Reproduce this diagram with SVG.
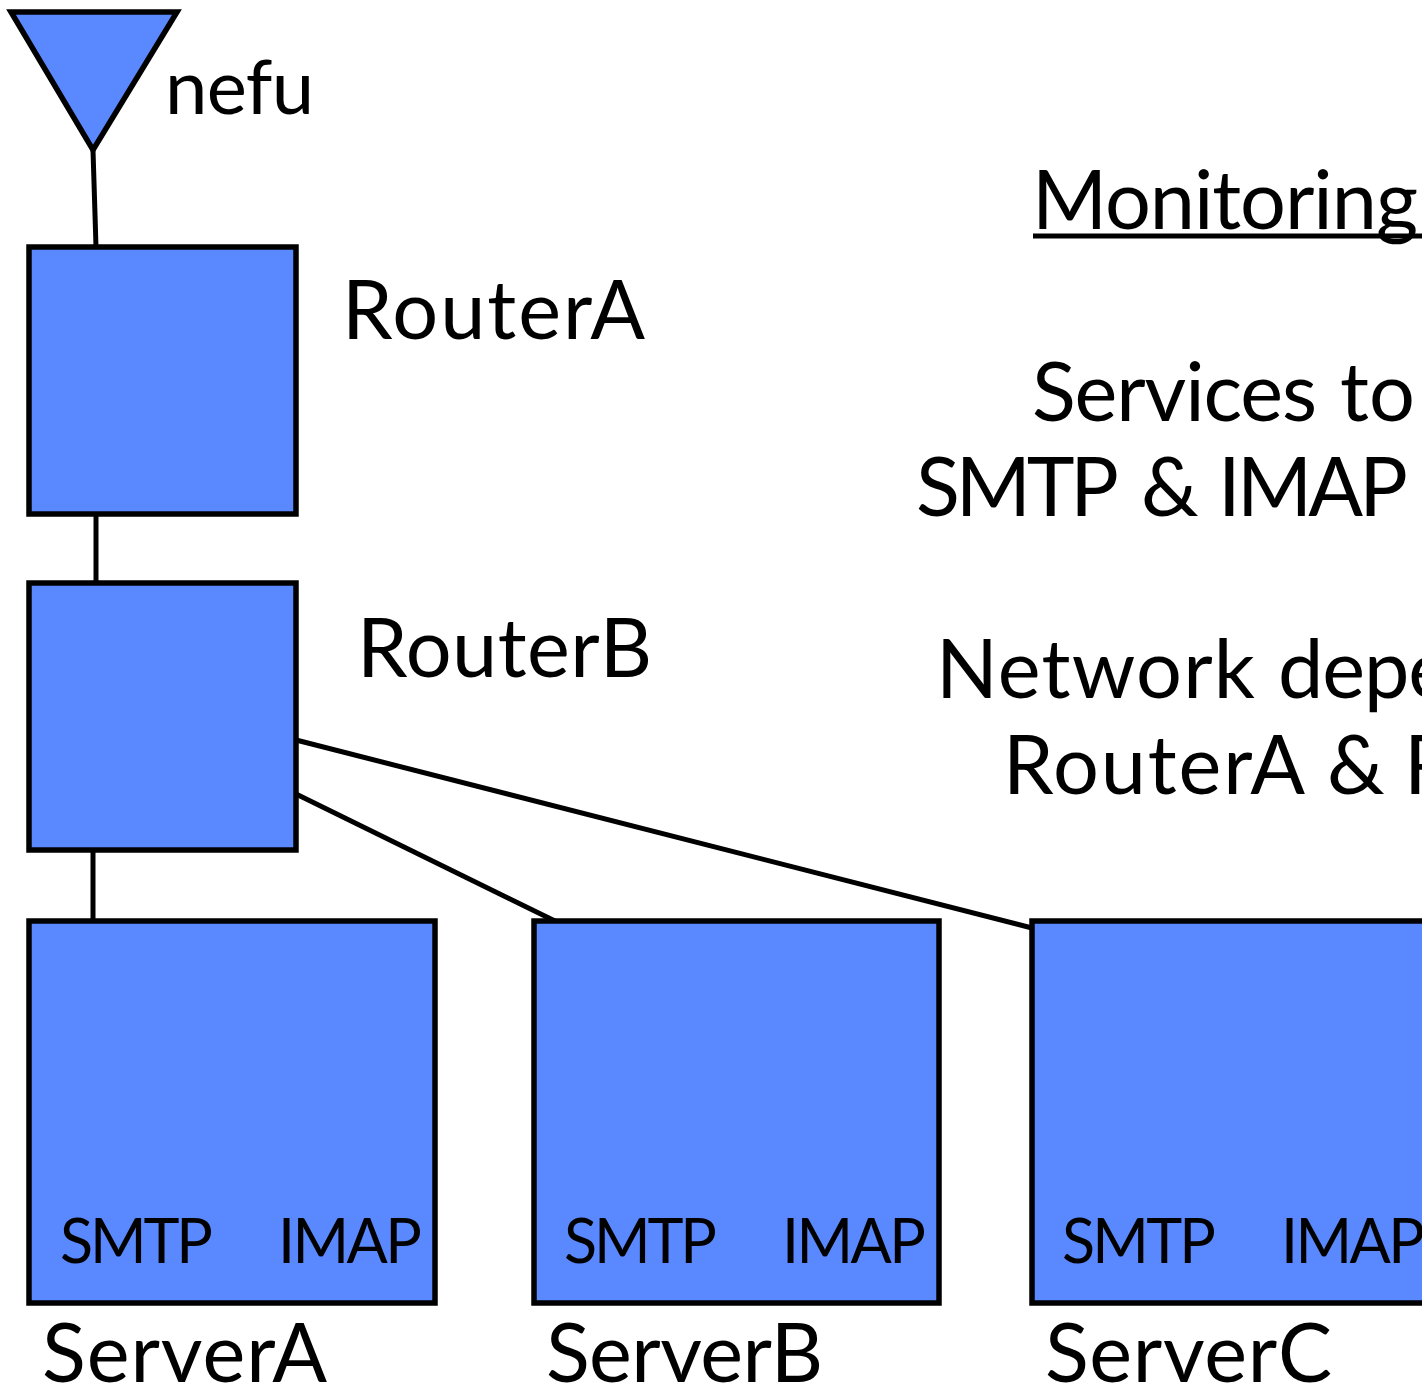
<svg xmlns="http://www.w3.org/2000/svg" width="1422" height="1388" viewBox="0 0 1422 1388">
<style>
.n{fill:#5a88ff;stroke:#000;stroke-width:5.5}
.c{stroke:#000;stroke-width:5;fill:none}
text{font-family:"Lato","Liberation Sans",sans-serif;fill:#000}
.l{font-size:81px}
.s{font-size:61px}
</style>
<rect width="1422" height="1388" fill="#fff"/>
<g id="connectors">
<line class="c" x1="93" y1="150" x2="96" y2="247"/>
<line class="c" x1="96" y1="513" x2="96" y2="583"/>
<line class="c" x1="93" y1="849" x2="93" y2="921"/>
<line class="c" x1="296" y1="740" x2="1032" y2="928"/>
<line class="c" x1="294" y1="793" x2="555" y2="921"/>
</g>
<g id="nefu"><polygon class="n" points="11,12 177,12 93,150"/><text x="165" y="114" font-size="76" textLength="149">nefu</text></g>
<g id="routerA"><rect class="n" x="29" y="247" width="267" height="267"/><text class="l" x="342" y="339" textLength="303">RouterA</text></g>
<g id="routerB"><rect class="n" x="29" y="583" width="267" height="267"/><text class="l" x="357" y="677" textLength="295">RouterB</text></g>
<g id="serverA"><rect class="n" x="29" y="921" width="406" height="382"/><text class="s" x="60" y="1263" textLength="153">SMTP</text><text class="s" x="278" y="1263" textLength="144">IMAP</text><text class="l" x="42" y="1382" textLength="285">ServerA</text></g>
<g id="serverB"><rect class="n" x="534" y="921" width="405" height="382"/><text class="s" x="564" y="1263" textLength="153">SMTP</text><text class="s" x="782" y="1263" textLength="144">IMAP</text><text class="l" x="546" y="1382" textLength="277">ServerB</text></g>
<g id="serverC"><rect class="n" x="1032" y="921" width="405" height="382"/><text class="s" x="1062" y="1263" textLength="154">SMTP</text><text class="s" x="1281" y="1263" textLength="144">IMAP</text><text class="l" x="1045" y="1382" textLength="287">ServerC</text></g>
<g id="notes">
<text class="l" x="1032" y="229" textLength="386">Monitoring</text>
<line class="c" x1="1033" y1="236" x2="1422" y2="236"/>
<text class="l" x="1032" y="421"><tspan textLength="285">Services</tspan><tspan x="1340" textLength="75">to</tspan></text>
<text class="l" x="916" y="516"><tspan textLength="203">SMTP</tspan><tspan x="1141" textLength="55">&amp;</tspan><tspan x="1218" textLength="190">IMAP</tspan></text>
<text class="l" x="936" y="698"><tspan textLength="319">Network</tspan><tspan x="1278" textLength="173">depe</tspan></text>
<text class="l" x="1003" y="794"><tspan textLength="302">RouterA</tspan><tspan x="1327" textLength="55">&amp;</tspan><tspan x="1404">R</tspan></text>
</g>
</svg>
